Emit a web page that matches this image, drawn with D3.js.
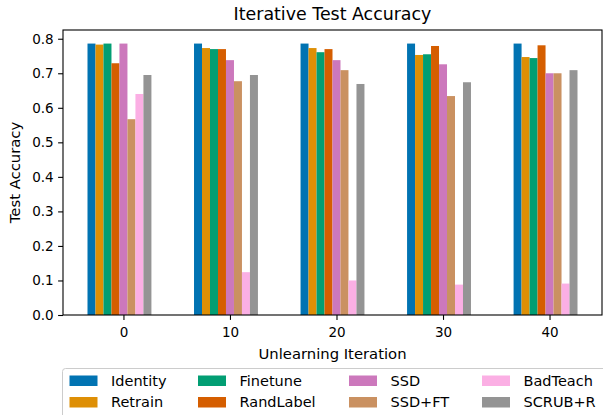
<!DOCTYPE html>
<html>
<head>
<meta charset="utf-8">
<script src="https://cdn.jsdelivr.net/npm/d3@7"></script>
<style>
  body { margin: 0; background: #fff; }
  svg { font-family: "DejaVu Sans", sans-serif; }
</style>
</head>
<body>
<div id="chart"></div>
<script>
// data
var iterations = [0, 10, 20, 30, 40];
var methods = ["Identity", "Retrain", "Finetune", "RandLabel", "SSD", "SSD+FT", "BadTeach", "SCRUB+R"];
var colors = ["#0173b2", "#de8f05", "#029e73", "#d55e00", "#cc78bc", "#ca9161", "#fbafe4", "#949494"];

var identity  = [0.786, 0.786, 0.786, 0.786, 0.786];
var retrain   = [0.783, 0.773, 0.773, 0.753, 0.747];
var finetune  = [0.786, 0.770, 0.761, 0.755, 0.744];
var randLabel = [0.729, 0.770, 0.770, 0.779, 0.781];
var ssd       = [0.786, 0.738, 0.738, 0.726, 0.700];
var ssdFt     = [0.567, 0.677, 0.709, 0.634, 0.700];
var badTeach  = [0.640, 0.124, 0.100, 0.088, 0.091];
var scrubR    = [0.695, 0.695, 0.669, 0.674, 0.709];

var yTicks = [0, 0.1, 0.2, 0.3, 0.4, 0.5, 0.6, 0.7, 0.8];

var series = [identity, retrain, finetune, randLabel, ssd, ssdFt, badTeach, scrubR];

var W = 603, H = 415;
var margin = {top: 30, right: 1, bottom: 100, left: 63},
    width = W - margin.left - margin.right,
    height = H - margin.top - margin.bottom;

var svg = d3.select("#chart")
  .append("svg")
    .attr("width", W)
    .attr("height", H);

var g = svg.append("g")
    .attr("transform", "translate(" + margin.left + "," + margin.top + ")");

// bar width in data units, bars placed like matplotlib: x + (i-4)*bw, centred
var bw = 0.75;
var xmin = iterations[0] - 4 * bw - bw / 2,
    xmax = iterations[iterations.length - 1] + 3 * bw + bw / 2,
    pad = (xmax - xmin) * 0.05;

var x = d3.scaleLinear()
    .domain([xmin - pad, xmax + pad])
    .range([0, width]);

var ymax = d3.max(series, function (s) { return d3.max(s); }) * 1.05;
var y = d3.scaleLinear()
    .domain([0, ymax])
    .range([height, 0]);

// bars
var rows = [];
series.forEach(function (s, i) {
  s.forEach(function (v, j) {
    rows.push({m: i, it: iterations[j], v: v});
  });
});

g.append("g")
  .selectAll("rect")
  .data(rows)
  .enter()
  .append("rect")
    .attr("x", function (d) { return x(d.it + (d.m - 4) * bw - bw / 2); })
    .attr("width", function (d) { return x(bw) - x(0); })
    .attr("y", function (d) { return y(d.v); })
    .attr("height", function (d) { return y(0) - y(d.v); })
    .attr("fill", function (d) { return colors[d.m]; });

// axes
var xAxis = g.append("g")
    .attr("transform", "translate(0," + height + ")")
    .call(d3.axisBottom(x).tickValues(iterations).tickSize(4.9).tickPadding(4.5).tickFormat(d3.format("d")));

var yAxis = g.append("g")
    .call(d3.axisLeft(y).tickValues(yTicks).tickSize(4.9).tickPadding(4.5).tickFormat(d3.format(".1f")));

[xAxis, yAxis].forEach(function (a) {
  a.select(".domain").remove();
  a.selectAll("text").attr("font-size", "13.5px").attr("fill", "#000")
    .attr("font-family", "DejaVu Sans, sans-serif");
  a.selectAll("line").attr("stroke", "#000").attr("stroke-width", 1.1);
});
xAxis.selectAll("text").attr("dy", "0.9em");

// frame
g.append("rect")
    .attr("x", 0).attr("y", 0)
    .attr("width", width).attr("height", height)
    .attr("fill", "none")
    .attr("stroke", "#000")
    .attr("stroke-width", 1.1);

// title & labels
svg.append("text")
    .attr("x", margin.left + width / 2)
    .attr("y", 20)
    .attr("text-anchor", "middle")
    .attr("font-size", "17.4px")
    .text("Iterative Test Accuracy");

svg.append("text")
    .attr("x", margin.left + width / 2)
    .attr("y", 359)
    .attr("text-anchor", "middle")
    .attr("font-size", "14.8px")
    .text("Unlearning Iteration");

svg.append("text")
    .attr("transform", "translate(19.5," + (margin.top + height / 2) + ") rotate(-90)")
    .attr("text-anchor", "middle")
    .attr("font-size", "14.8px")
    .text("Test Accuracy");

// legend (below the plot, 4 columns, runs off the picture edge)
var legend = svg.append("g");
legend.append("rect")
    .attr("x", 62.5).attr("y", 368.5)
    .attr("width", 580).attr("height", 70)
    .attr("rx", 3)
    .attr("fill", "#fff")
    .attr("stroke", "#cccccc")
    .attr("stroke-width", 1);

var colX = [69.5, 198, 349, 482];
var rowY = [380.5, 402];

var items = legend.selectAll("g.item")
  .data(methods)
  .enter()
  .append("g")
    .attr("class", "item")
    .attr("transform", function (d, i) {
      return "translate(" + colX[Math.floor(i / 2)] + "," + rowY[i % 2] + ")";
    });

items.append("rect")
    .attr("x", 0).attr("y", -5)
    .attr("width", 28).attr("height", 10.5)
    .attr("fill", function (d, i) { return colors[i]; });

items.append("text")
    .attr("x", 41.5)
    .attr("y", 5.3)
    .attr("font-size", "14.5px")
    .text(function (d) { return d; });
</script>
</body>
</html>
